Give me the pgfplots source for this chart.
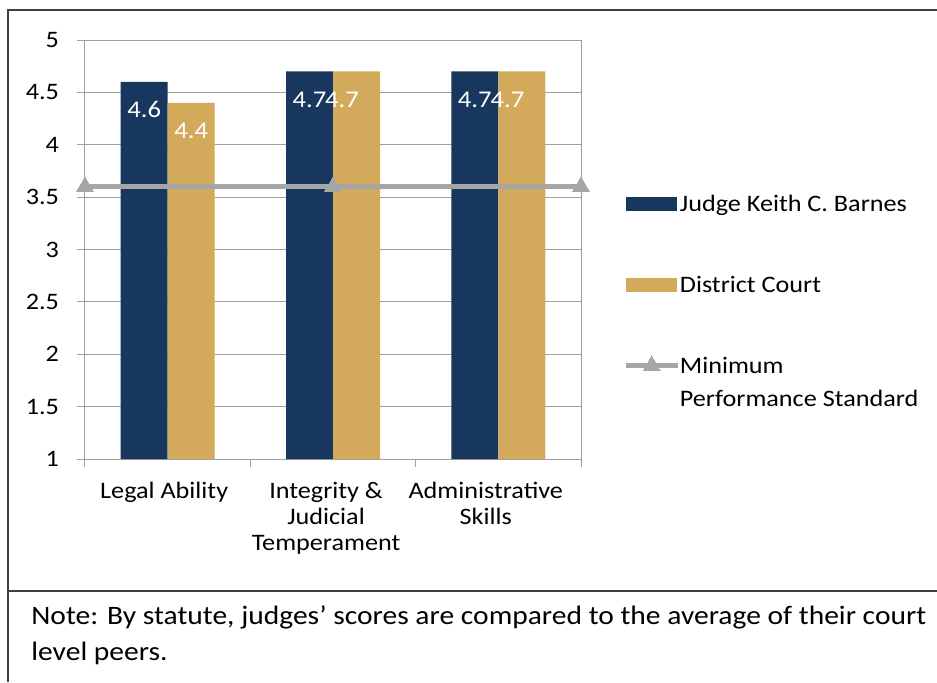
\documentclass[border=0pt]{standalone}
\usepackage{pgfplots}
\pgfplotsset{compat=1.18}
\usepackage{pgfplotstable}
\usepackage{fontspec}
\setmainfont{Carlito}[FakeStretch=1.11]
\definecolor{navy}{HTML}{17375E}
\definecolor{gold}{HTML}{D3A95B}
\definecolor{minline}{HTML}{A6A6A6}
\definecolor{gridc}{HTML}{A0A0A0}
\definecolor{framec}{HTML}{404040}

\pgfplotsset{
  minlegend/.style={legend image code/.code={\draw[##1, mark repeat=2, mark phase=2] plot coordinates {(0pt,0pt) (13pt,0pt) (26pt,0pt)};}},
  navylegend/.style={legend image code/.code={\fill[navy] (0pt,-3.4pt) rectangle (25.5pt,3.4pt);}},
  goldlegend/.style={legend image code/.code={\fill[gold] (0pt,-3.4pt) rectangle (25.5pt,3.4pt);}},
  spacerlegend/.style={legend image code/.code={\path[draw=none, fill=none] (0pt,-11.9pt) rectangle (0pt,11.9pt);}},
  nolegend/.style={legend image code/.code={}},
}

\pgfplotstableread{
x judge district dx
0.5 4.6 4.4 0
1.5 4.7 4.7 -7.2
2.5 4.7 4.7 -7.2
}\scores
\pgfplotstableread{
x y
0 3.6
1.5 3.6
3 3.6
}\minstd

\begin{document}
\begin{tikzpicture}[font=\fontsize{11.8}{13}\selectfont]
\useasboundingbox (0,0) rectangle (468.5pt,341pt);
\draw[framec, line width=0.9pt] (4pt,0) -- (4pt,336pt) -- (468.5pt,336pt);
\draw[framec, line width=0.9pt] (4pt,45.5pt) -- (468.5pt,45.5pt);
\node[anchor=base west, inner sep=0pt, font=\fontsize{13.3}{18}\selectfont] at (15.5pt,29pt) {Note: By statute, judges’ scores are compared to the average of their court};
\node[anchor=base west, inner sep=0pt, font=\fontsize{13.3}{18}\selectfont] at (15.5pt,11pt) {level peers.};
\begin{axis}[
  at={(42.5pt,111.5pt)}, anchor=south west,
  scale only axis, width=248pt, height=209.5pt,
  xmin=0, xmax=3, ymin=1, ymax=5,
  ytick={1,1.5,...,5},
  xtick={0,1,2,3},
  xticklabels={,,,},
  extra x ticks={0.479,1.458,2.424},
  extra x tick labels={Legal Ability,{Integrity \&\\Judicial\\Temperament},{Administrative\\Skills}},
  extra x tick style={major tick length=0pt, grid=none},
  xticklabel style={align=center, font=\fontsize{11.8}{13}\selectfont, yshift=-8pt},
  yticklabel style={font=\fontsize{11.8}{13}\selectfont, xshift=-5.5pt},
  /pgf/number format/assume math mode=true,
  ymajorgrids,
  grid style={gridc, line width=0.5pt},
  axis line style={gridc, line width=0.5pt},
  tick style={gridc, line width=0.5pt},
  tick align=outside, major tick length=4pt,
  tick pos=left,
  clip=false,
  legend cell align=left,
  legend style={at={(1.0847,0.649)}, anchor=north west, draw=none, fill=none,
    inner sep=0pt, column sep=0pt,
    nodes={inner sep=0pt, text height=12pt, text depth=4.6pt},
    font=\fontsize{11.8}{13}\selectfont},
]
\addplot[ybar, bar width=23.5pt, bar shift=-11.75pt, fill=navy, draw=none,
  nodes near coords,
  every node near coord/.append style={text=white, anchor=center, yshift=-14pt, xshift=-11.75pt, font=\fontsize{12}{13}\selectfont},
  navylegend]
  table[x=x, y=judge] {\scores};
\addlegendentry{Judge Keith C. Barnes}
\addlegendimage{spacerlegend}
\addlegendentry{}
\addplot[ybar, bar width=23.5pt, bar shift=11.75pt, fill=gold, draw=none,
  nodes near coords,
  visualization depends on={\thisrow{dx}\as\dx},
  every node near coord/.append style={text=white, anchor=center, yshift=-14pt, xshift=11.75pt+\dx pt, font=\fontsize{12}{13}\selectfont},
  goldlegend]
  table[x=x, y=district] {\scores};
\addlegendentry{District Court}
\addlegendimage{spacerlegend}
\addlegendentry{}
\addplot[minline, line width=2.25pt, mark=triangle*, mark size=4.9pt,
  mark options={solid, fill=minline, draw=minline, line width=0pt},
  minlegend]
  table[x=x, y=y] {\minstd};
\addlegendentry{Minimum}
\addlegendimage{nolegend}
\addlegendentry{Performance Standard}
\end{axis}
\end{tikzpicture}
\end{document}
